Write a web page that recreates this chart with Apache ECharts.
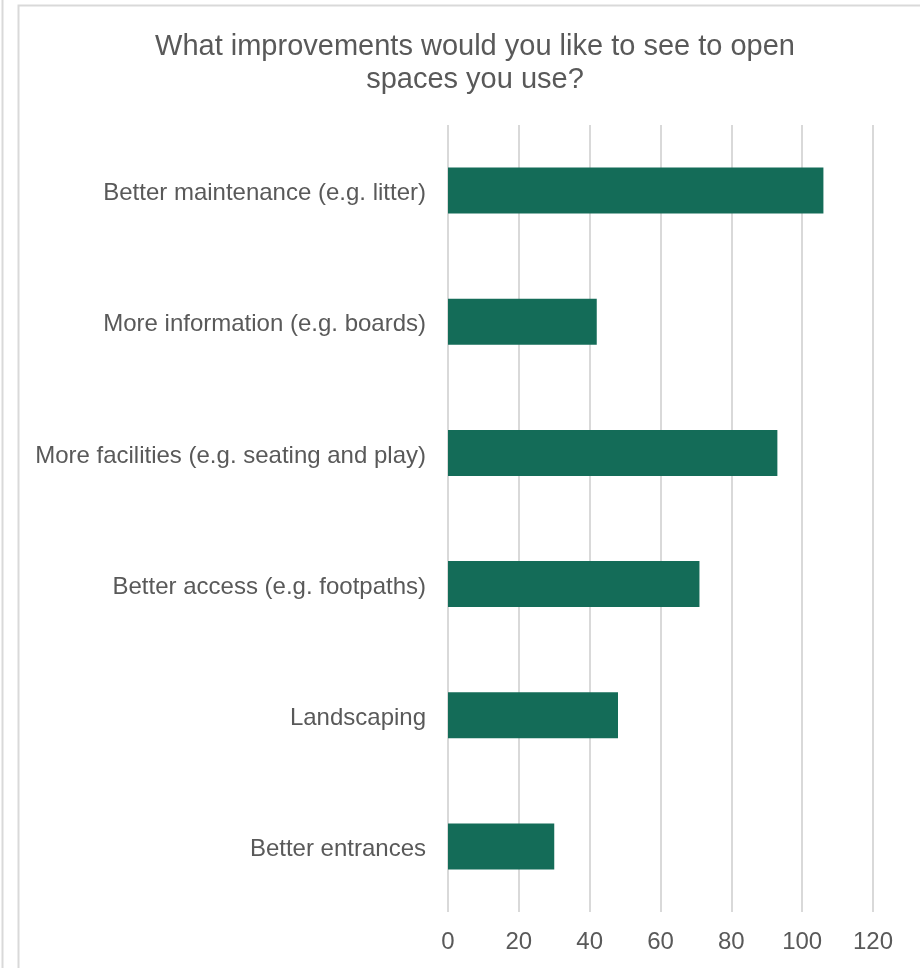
<!DOCTYPE html>
<html>
<head>
<meta charset="utf-8">
<script src="https://cdn.jsdelivr.net/npm/echarts@6/dist/echarts.min.js"></script>
<style>
  html, body { margin: 0; padding: 0; background: #fff; }
  #chart { width: 920px; height: 968px; }
</style>
</head>
<body>
<div id="chart"></div>
<script>
// categories bottom to top (echarts category y axis starts at bottom)
const categories = [
    'Better entrances',
    'Landscaping',
    'Better access (e.g. footpaths)',
    'More facilities (e.g. seating and play)',
    'More information (e.g. boards)',
    'Better maintenance (e.g. litter)'
]
const counts = [30, 48, 71, 93, 42, 106]
const xTicks = [0, 20, 40, 60, 80, 100, 120]

const textColor = '#595959'
const font = 'Arial, "Liberation Sans", sans-serif'

const mychart = echarts.init(document.getElementById('chart'))
mychart.setOption({
    animation: false,
    backgroundColor: '#fff',
    graphic: [
        { type: 'line', shape: { x1: 2.5, y1: 0, x2: 2.5, y2: 968 }, style: { stroke: '#d9d9d9', lineWidth: 2 } },
        { type: 'rect', shape: { x: 18.5, y: 5.5, width: 920, height: 980 }, style: { fill: 'none', stroke: '#d9d9d9', lineWidth: 2 } }
    ],
    title: {
        text: 'What improvements would you like to see to open\nspaces you use?',
        left: 470,
        textAlign: 'center',
        top: 25,
        textStyle: { color: textColor, fontFamily: font, fontSize: 29, fontWeight: 'normal', lineHeight: 33 }
    },
    grid: { left: 448, right: 47, top: 125, bottom: 56, containLabel: false },
    xAxis: {
        type: 'value',
        min: xTicks[0],
        max: xTicks[xTicks.length - 1],
        interval: 20,
        axisLine: { show: false },
        axisTick: { show: false },
        axisLabel: { color: textColor, fontFamily: font, fontSize: 24, margin: 18 },
        splitLine: { lineStyle: { color: '#d9d9d9', width: 2 } }
    },
    yAxis: {
        type: 'category',
        data: categories,
        axisLine: { show: false },
        axisTick: { show: false },
        axisLabel: {
            margin: 22,
            formatter: v => '{a|' + v + '}',
            rich: {
                a: { color: textColor, fontFamily: font, fontSize: 24, padding: [6, 0, 0, 0] }
            }
        }
    },
    series: [{
        type: 'bar',
        data: counts,
        barWidth: 46,
        itemStyle: { color: '#146C58' }
    }]
})
</script>
</body>
</html>
